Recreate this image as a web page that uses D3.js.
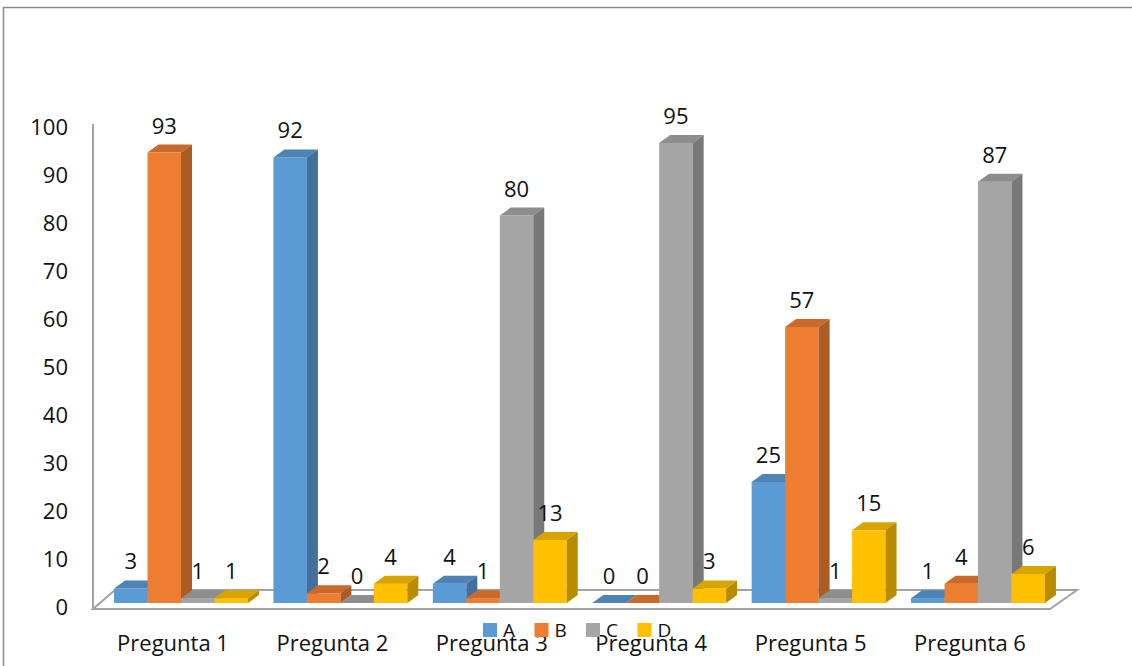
<!DOCTYPE html>
<html>
<head>
<meta charset="utf-8">
<script src="https://cdn.jsdelivr.net/npm/d3@7"></script>
<style>
  body { margin: 0; background: #fff; }
  text { font-family: "Open Sans", sans-serif; fill: #111; }
</style>
</head>
<body>
<div class="chart"></div>
<script>
var categories = ["Pregunta 1", "Pregunta 2", "Pregunta 3", "Pregunta 4", "Pregunta 5", "Pregunta 6"];
var seriesNames = ["A", "B", "C", "D"];
var valuesA = [3, 92, 4, 0, 25, 1];
var valuesB = [93, 2, 1, 0, 57, 4];
var valuesC = [1, 0, 80, 95, 1, 87];
var valuesD = [1, 4, 13, 3, 15, 6];
var yTicks = [0, 10, 20, 30, 40, 50, 60, 70, 80, 90, 100];

var seriesValues = [valuesA, valuesB, valuesC, valuesD];
var colors = ["#5b9bd5", "#ed7d31", "#a5a5a5", "#ffc000"];

var W = 1132, H = 666;
var depthX = 11, depthY = -8;

var svg = d3.select(".chart").append("svg")
    .attr("width", W)
    .attr("height", H);

// outer frame
svg.append("rect")
    .attr("x", 3.5).attr("y", 7.5)
    .attr("width", 1200).attr("height", 700)
    .style("fill", "none")
    .style("stroke", "#8c8c8c")
    .style("stroke-width", "1.5px");

var x0 = d3.scaleBand().domain(categories).range([101.3, 1057.7])
    .paddingInner(0.16).paddingOuter(0.08);
var x1 = d3.scaleBand().domain(seriesNames).range([0, x0.bandwidth()]);
var y = d3.scaleLinear().domain([0, 100]).range([603, 118.7]);
var yLab = d3.scaleLinear().domain([0, 100]).range([607, 127]);

// floor
var floorPts = [[93, 609], [1050, 609], [1077, 590], [115, 590]];
svg.append("polygon")
    .attr("points", floorPts.map(function (p) { return p.join(","); }).join(" "))
    .style("fill", "#fff")
    .style("stroke", "#a3a3a3")
    .style("stroke-width", "2px");

// vertical axis line
svg.append("line")
    .attr("x1", 93).attr("x2", 93)
    .attr("y1", 124).attr("y2", 609)
    .style("stroke", "#a3a3a3")
    .style("stroke-width", "2px");

// y labels
var yAxis = svg.append("g")
    .attr("transform", "translate(68,0)")
    .call(d3.axisLeft(yLab).tickValues(yTicks).tickSize(0).tickPadding(0));
yAxis.select(".domain").remove();
yAxis.selectAll("text")
    .style("font-size", "22px")
    .style("font-family", "'Open Sans', sans-serif")
    .style("fill", "#111");

// bars
var bars = svg.append("g");
categories.forEach(function (cat, i) {
    seriesNames.forEach(function (s, k) {
	var v = seriesValues[k][i];
	var xl = x0(cat) + x1(s);
	var xr = xl + x1.bandwidth();
	var yt = y(v), yb = y(0);
	var c = d3.color(colors[k]);
	var top = c.darker(0.45), side = c.darker(0.9);
	var g = bars.append("g");
	g.append("rect")
	    .attr("x", xl).attr("y", yt)
	    .attr("width", xr - xl).attr("height", yb - yt)
	    .style("fill", colors[k]);
	g.append("polygon")
	    .attr("points", [[xl, yt], [xr, yt], [xr + depthX, yt + depthY], [xl + depthX, yt + depthY]].join(" "))
	    .style("fill", top);
	g.append("polygon")
	    .attr("points", [[xr, yt], [xr + depthX, yt + depthY], [xr + depthX, yb + depthY], [xr, yb]].join(" "))
	    .style("fill", side);
	svg.append("text")
	    .attr("x", (xl + xr) / 2)
	    .attr("y", yt - 19)
	    .attr("text-anchor", "middle")
	    .style("font-size", "22px")
	    .text(v);
    });
});

// category labels
svg.selectAll("text.cat")
    .data(categories)
  .enter().append("text")
    .attr("class", "cat")
    .attr("x", function (d) { return x0(d) + x0.bandwidth() / 2 - 8; })
    .attr("y", 651)
    .attr("text-anchor", "middle")
    .style("font-size", "22px")
    .text(function (d) { return d; });

// legend
var legend = svg.append("g");
seriesNames.forEach(function (s, k) {
    var lx = 483 + k * 51.5;
    legend.append("rect")
	.attr("x", lx).attr("y", 623)
	.attr("width", 14).attr("height", 14)
	.style("fill", colors[k]);
    legend.append("text")
	.attr("x", lx + 20).attr("y", 637)
	.style("font-size", "19px")
	.text(s);
});
</script>
</body>
</html>
